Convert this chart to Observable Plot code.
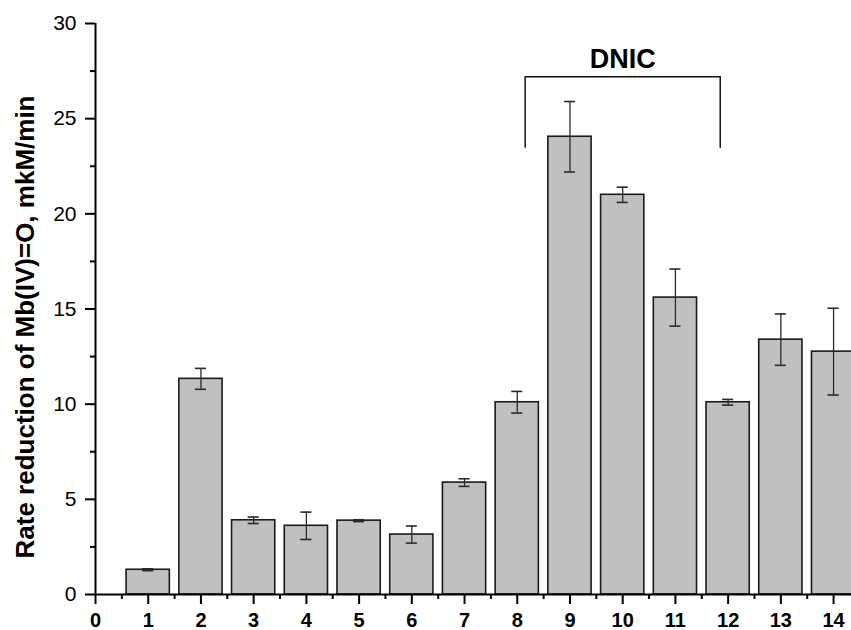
<!DOCTYPE html>
<html>
<head>
<meta charset="utf-8">
<script src="https://cdn.jsdelivr.net/npm/d3@7"></script>
<script src="https://cdn.jsdelivr.net/npm/@observablehq/plot@0.6"></script>
<style>
  body { margin: 0; background: white; }
  #chart svg { display: block; }
</style>
</head>
<body>
<div id="chart"></div>
<script>
const categories = [1, 2, 3, 4, 5, 6, 7, 8, 9, 10, 11, 12, 13, 14];
const rates  = [1.3, 11.33, 3.9, 3.61, 3.88, 3.15, 5.88, 10.1, 24.05, 21.0, 15.6, 10.1, 13.39, 12.76];
const errors = [0.05, 0.55, 0.17, 0.72, 0.05, 0.45, 0.2, 0.57, 1.85, 0.4, 1.5, 0.15, 1.35, 2.28];
const xTicks = [0, 1, 2, 3, 4, 5, 6, 7, 8, 9, 10, 11, 12, 13, 14];
const xMinorTicks = [0.5, 1.5, 2.5, 3.5, 4.5, 5.5, 6.5, 7.5, 8.5, 9.5, 10.5, 11.5, 12.5, 13.5];
const yTicks = [0, 5, 10, 15, 20, 25, 30];
const yMinorTicks = [2.5, 7.5, 12.5, 17.5, 22.5, 27.5];
const groupLabel = "DNIC";
const groupFrom = 8.15, groupTo = 11.85, groupBottom = 23.5, groupTop = 27.2;
const yLabel = "Rate reduction of Mb(IV)=O, mkM/min";

const data = categories.map((c, i) => ({cat: c, rate: rates[i], err: errors[i]}));
const bracket = [
  {x: groupFrom, y: groupBottom},
  {x: groupFrom, y: groupTop},
  {x: groupTo, y: groupTop},
  {x: groupTo, y: groupBottom}
];

const half = 0.41;   // half bar width in x units
const cap = 0.105;   // half error-cap width
const font = "'Liberation Sans', Arial, Helvetica, sans-serif";

const chart = Plot.plot({
  width: 851,
  height: 630,
  marginLeft: 95,
  marginRight: 0,
  marginTop: 23,
  marginBottom: 36,
  style: {fontFamily: font, background: "white", color: "black"},
  x: {domain: [0, 14.34], axis: null},
  y: {domain: [0, 30], axis: null},
  marks: [
    Plot.rectY(data, {
      x1: d => d.cat - half, x2: d => d.cat + half, y1: 0, y2: "rate",
      fill: "#c0c0c0", stroke: "#1a1a1a", strokeWidth: 1.6
    }),
    Plot.ruleX(data, {x: "cat", y1: d => d.rate - d.err, y2: d => d.rate + d.err, stroke: "#2a2a2a", strokeWidth: 1.3}),
    Plot.ruleY(data, {y: d => d.rate + d.err, x1: d => d.cat - cap, x2: d => d.cat + cap, stroke: "#2a2a2a", strokeWidth: 1.6}),
    Plot.ruleY(data, {y: d => d.rate - d.err, x1: d => d.cat - cap, x2: d => d.cat + cap, stroke: "#2a2a2a", strokeWidth: 1.6}),
    Plot.line(bracket, {x: "x", y: "y", stroke: "#111", strokeWidth: 1.5}),
    Plot.text([groupLabel], {x: (groupFrom + groupTo) / 2, y: groupTop, text: d => d, lineAnchor: "bottom", dy: -9, fontSize: 27, fontWeight: "bold", fill: "black"}),
    // axis lines
    Plot.ruleX([0], {y1: 0, y2: 30, stroke: "black", strokeWidth: 2}),
    Plot.ruleY([0], {x1: 0, x2: 14.34, stroke: "black", strokeWidth: 2}),
    // y axis ticks and labels
    Plot.axisY({ticks: yTicks, tickSize: 10, strokeWidth: 2, text: null, label: null}),
    Plot.axisY({ticks: yMinorTicks, tickSize: 5, strokeWidth: 2, text: null, label: null}),
    Plot.text(yTicks, {y: d => d, frameAnchor: "left", text: d => String(d), dx: -19, textAnchor: "end", fontSize: 21, fill: "black"}),
    // x axis ticks and labels
    Plot.axisX({ticks: xTicks, tickSize: 10, strokeWidth: 2, text: null, label: null}),
    Plot.axisX({ticks: xMinorTicks, tickSize: 5, strokeWidth: 2, text: null, label: null}),
    Plot.text(xTicks, {x: d => d, frameAnchor: "bottom", text: d => String(d), lineAnchor: "bottom", dy: 32, fontSize: 20, fontWeight: "bold", fill: "black"}),
    // y label
    Plot.text([yLabel], {frameAnchor: "left", text: d => d, dx: -70, dy: 18, rotate: -90, textAnchor: "middle", fontSize: 26, fontWeight: "bold", fill: "black"})
  ]
});
document.getElementById("chart").append(chart);
</script>
</body>
</html>
